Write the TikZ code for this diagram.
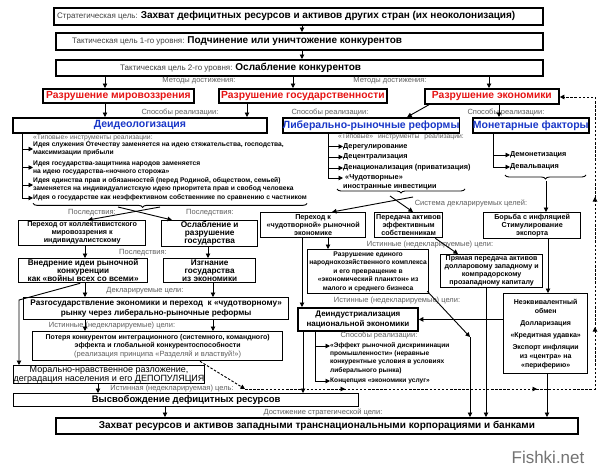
\documentclass[tikz,border=0pt]{standalone}
\usepackage{fontspec}
\setmainfont{Liberation Sans}
\usetikzlibrary{arrows.meta,decorations.pathreplacing,decorations.markings}
\definecolor{rd}{RGB}{230,20,20}
\definecolor{bl}{RGB}{25,55,200}
\definecolor{lb}{RGB}{95,95,95}
\newcommand\fs[2]{\fontsize{#1}{#2}\selectfont}
\newcommand\bxn[6]{\node[#6, anchor=north west, minimum width={#4-#2}, minimum height={#5-#3}] (#1) at (#2,#3)}
\tikzset{
 bx/.style={draw, line width=1.3pt, inner sep=0pt, align=center, font=\bfseries\fs{7.2}{8.2}},
 bxt/.style={bx, line width=1.8pt},
 lbl/.style={text=lb, inner sep=0pt, font=\fs{7.5}{8}},
 arr/.style={-{Triangle[length=4.5pt,width=4.5pt]}, line width=0.9pt},
 ln/.style={line width=0.9pt},
 itm/.style={anchor=west, align=left, inner sep=0pt, font=\bfseries\fs{6.7}{8}},
 dsh/.style={dash pattern=on 2.5pt off 1.6pt, line width=0.9pt},
 brc/.style={ln, decorate, decoration={brace, mirror, amplitude=4pt}},
}
\begin{document}
\begin{tikzpicture}[x=1pt,y=-1pt]
\useasboundingbox (0,0) rectangle (600,471);
\fill[white] (0,0) rectangle (600,471);
% x helper coordinates
\foreach \n/\v in {x302/302,x105/105,x293/293,x489/489,x247/247,x499/499,x22/22,x328/328,x493/493,x88/88,x172/172,x85/85,x208/208,x213/213,x98/98,x165/165,x332/332,x413/413,x546/546,x548/548,x547/547,x486/486,x470/470,x458/458,x315/315,x303/303,x200/200,x19/19}
  {\coordinate (\n) at (\v,0);}

% top goals
\bxn{s1}{53}{7}{542}{24}{bxt}{};
\node[anchor=west, inner sep=0pt] (s1t) at ([xshift=4]s1.west) {{\fs{8}{9}\color{black!75}Стратегическая цель: }{\bfseries\fs{10}{11}Захват дефицитных ресурсов и активов других стран (их неоколонизация)}};
\bxn{s2}{55}{32}{542}{49}{bxt}{};
\node[anchor=west, inner sep=0pt] (s2t) at ([xshift=17]s2.west) {{\fs{8}{9}\color{black!75}Тактическая цель 1-го уровня: }{\bfseries\fs{10}{11}Подчинение или уничтожение конкурентов}};
\bxn{s3}{55}{59}{542}{75}{bxt}{};
\node[anchor=west, inner sep=0pt] (s3t) at ([xshift=65]s3.west) {{\fs{8}{9}\color{black!75}Тактическая цель 2-го уровня: }{\bfseries\fs{10}{11}Ослабление конкурентов}};
\draw[arr] (s1.south -| x302) -- (s2.north -| x302);
\draw[arr] (s2.south -| x302) -- (s3.north -| x302);

% methods
\node[lbl] (lm1) at (199,81) {Методы достижения:};
\node[lbl] (lm2) at (390,81) {Методы достижения:};
\bxn{m1}{42}{88}{193}{102}{bxt, text=rd, font=\bfseries\fs{10.3}{11}}{Разрушение мировоззрения};
\bxn{m2}{218}{88}{386}{102}{bxt, text=rd, font=\bfseries\fs{10.3}{11}}{Разрушение государственности};
\bxn{m3}{424}{88}{558}{103}{bxt, text=rd, font=\bfseries\fs{10.3}{11}}{Разрушение экономики};
\draw[arr] (s3.south -| x105) -- (m1.north -| x105);
\draw[arr] (s3.south -| x293) -- (m2.north -| x293);
\draw[arr] (s3.south -| x489) -- (m3.north -| x489);

% ways
\node[lbl] (lw1) at (180,112.5) {Способы реализации:};
\node[lbl] (lw2) at (330,112.5) {Способы реализации:};
\node[lbl] (lw3) at (506,112.5) {Способы реализации:};
\bxn{d1}{12}{117}{266}{132}{bxt, text=bl, font=\bfseries\fs{10.5}{11}}{Деидеологизация};
\bxn{d2}{282}{117}{456}{132}{bxt, text=bl, font=\bfseries\fs{10.5}{11}}{Либерально-рыночные реформы};
\bxn{d3}{472}{117}{587}{132}{bxt, text=bl, font=\bfseries\fs{10.5}{11}}{Монетарные факторы};
\draw[arr] (m1.south -| x105) -- (d1.north -| x105);
\draw[arr] (m2.south -| x247) -- (d1.north -| x247);
\draw[arr] ([xshift=-63]m3.south) -- ([xshift=36]d2.north);
\draw[arr] (m3.south -| x499) -- (d3.north -| x499);

% deideologization list
\node[lbl, anchor=west, font=\fs{6.8}{8}] (ld) at (33,137.5) {«Типовые» инструменты реализации:};
\node[itm] (i1) at (33,149) {Идея служения Отечеству заменяется на идею стяжательства, господства,\\максимизации прибыли};
\node[itm] (i2) at (33,167.5) {Идея государства-защитника народов заменяется\\на идею государства-«ночного сторожа»};
\node[itm] (i3) at (33,185) {Идея единства прав и обязанностей (перед Родиной, обществом, семьей)\\заменяется на индивидуалистскую идею приоритета прав и свобод человека};
\node[itm] (i4) at (33,198) {Идея о государстве как неэффективном собственнике по сравнению с частником};
\draw[ln] (d1.south -| x22) -- (i4.west -| x22);
\foreach \k in {i1,i2,i3,i4} {\draw[arr] (\k.west -| x22) -- (\k.west);}
\draw[brc, decoration={aspect=0.4}] ([yshift=-2]i4.south west) -- ([yshift=-2]i4.south east);
\coordinate (bxl) at (118,207);
\coordinate (bxr) at (160,207);

% consequences
\node[lbl] (lc1) at (92,212.5) {Последствия:};
\node[lbl] (lc2) at (210,212.5) {Последствия:};
\bxn{L1}{18}{220}{145}{245}{bx, font=\bfseries\fs{7.2}{8}}{Переход от коллективистского\\мировоззрения к\\индивидуалистскому};
\bxn{L2}{161}{220}{257}{246}{bx, font=\bfseries\fs{8.3}{8}}{Ослабление и\\разрушение\\государства};
\draw[arr] (bxr) -- (L1.north -| x88);
\draw[arr] (bxl) -- (L2.north -| x172);
\node[lbl] (lc3) at (143,253) {Последствия:};
\bxn{L3}{18}{258}{147}{282}{bx, font=\bfseries\fs{8.2}{7.6}}{Внедрение идеи рыночной\\конкуренции\\как «войны всех со всеми»};
\bxn{L4}{163}{258}{255}{282}{bx, font=\bfseries\fs{8.2}{7.6}}{Изгнание\\государства\\из экономики};
\draw[arr] (L1.south -| x85) -- (L3.north -| x85);
\draw[arr] (L2.south -| x208) -- (L4.north -| x208);
\node[lbl] (lc4) at (145,291) {Декларируемые цели:};
\bxn{R}{23}{297}{288}{319}{bx, font=\bfseries\fs{8.2}{10}}{Разгосударствление экономики и переход \ к «чудотворному»\\рынку через либерально-рыночные реформы};
\draw[arr] (L3.south -| x85) -- (R.north -| x85);
\draw[arr] (L4.south -| x213) -- (R.north -| x213);
\node[lbl] (lc5) at (112,326) {Истинные (недекларируемые) цели:};
\bxn{P}{32}{331}{282}{360}{bx, font=\bfseries\fs{7}{8.5}}{Потеря конкурентом интеграционного (системного, командного)\\эффекта и глобальной конкурентоспособности\\{\mdseries\fs{7.5}{8.5}\color{lb}(реализация принципа «Разделяй и властвуй!»)}};
\draw[arr] (R.south -| x85) -- (P.north -| x85);
\draw[arr] (R.south -| x213) -- (P.north -| x213);
\bxn{M}{13}{365}{203}{383}{bx, font=\fs{9}{9.5}}{Морально-нравственное разложение,\\деградация населения и его ДЕПОПУЛЯЦИЯ};
\coordinate (lbend) at (19,300);
\draw[arr] ([xshift=-3]L3.south) -- (lbend) -- (M.north -| x19);
\node[lbl] (lc6) at (172,389) {Истинная (недекларируемая) цель:};
\bxn{V}{13}{393}{358}{406}{bx, font=\bfseries\fs{9.5}{10}}{Высвобождение дефицитных ресурсов};
\draw[arr] (M.south -| x98) -- (V.north -| x98);
\node[lbl] (lc7) at (323,412) {Достижение стратегической цели:};
\bxn{F}{55}{417}{577}{433}{bxt, font=\bfseries\fs{10}{11}}{Захват ресурсов и активов западными транснациональными корпорациями и банками};
\draw[arr] (V.south -| x165) -- (F.north -| x165);

% liberal list
\node[lbl, anchor=west, font=\fs{6.8}{8}] (ll) at (338,137) {«Типовые»\hspace{5pt}инструменты\hspace{5pt}реализации:};
\node[itm, font=\bfseries\fs{7.3}{9}] (k1) at (343,146.5) {Дерегулирование};
\node[itm, font=\bfseries\fs{7.3}{9}] (k2) at (343,157) {Децентрализация};
\node[itm, font=\bfseries\fs{7.3}{9}] (k3) at (343,168) {Денационализация (приватизация)};
\node[itm, font=\bfseries\fs{7.3}{9}] (k4) at (343,182.5) {\hspace{2pt}«Чудотворные»\\иностранные инвестиции};
\coordinate (k4a) at (343,178);
\draw[ln] (d2.south -| x328) -- (k4a -| x328);
\foreach \k in {k1,k2,k3} {\draw[arr] (\k.west -| x328) -- (\k.west);}
\draw[arr] (k4a -| x328) -- (k4a);
\coordinate (lbA) at (337,189);
\coordinate (lbB) at (465,189);
\draw[brc] (lbA) -- (lbB);
\coordinate (byl) at (390,196);
\coordinate (byr) at (413,197);
\node[lbl] (ls) at (471,203) {Система декларируемых целей:};

% monetary list
\node[itm, font=\bfseries\fs{7.3}{9}] (n1) at (510,155) {Демонетизация};
\node[itm, font=\bfseries\fs{7.3}{9}] (n2) at (510,167) {Девальвация};
\draw[ln] (d3.south -| x493) -- (n2.west -| x493);
\foreach \k in {n1,n2} {\draw[arr] (\k.west -| x493) -- (\k.west);}
\coordinate (mbA) at (505,175);
\coordinate (mbB) at (586,175);
\draw[brc] (mbA) -- (mbB);
\coordinate (mbt) at (546,181);

% declared goals (right)
\bxn{T1}{260}{212}{365}{237}{bx}{Переход к\\«чудотворной» рыночной\\экономике};
\bxn{T2}{374}{212}{442}{237}{bx}{Передача активов\\эффективным\\собственникам};
\bxn{T3}{483}{212}{580}{238}{bx}{Борьба с инфляцией\\Стимулирование\\экспорта};
\draw[arr] (byr) -- (T1.north -| x332);
\draw[arr] (byl) -- (T2.north -| x413);
\draw[arr] (mbt) -- (T3.north -| x546);
\node[lbl] (lt) at (430,245) {Истинные (недекларируемые) цели:};
\bxn{U1}{307}{249}{428}{293}{bx, font=\bfseries\fs{6.7}{8.4}}{Разрушение единого\\народнохозяйственного комплекса\\и его превращение в\\«экономический планктон» из\\малого и среднего бизнеса};
\bxn{U2}{440}{254}{542}{287}{bx, font=\bfseries\fs{7.1}{8}}{Прямая передача активов\\долларовому западному и\\компрадорскому\\прозападному капиталу};
\draw[arr] (T1.south -| x328) -- (U1.north -| x328);
\draw[arr] ([xshift=-8]T2.south east) -- (U2.north -| x458);
\bxn{W}{503}{293}{587}{373}{bx, font=\bfseries\fs{7}{9}}{Неэквивалентный\\обмен\\[3pt]Долларизация\\[3pt]«Кредитная удавка»\\[3pt]Экспорт инфляции\\из «центра» на\\«периферию»};
\draw[arr] (T3.south -| x548) -- (W.north -| x548);
\node[lbl] (lt2) at (397,300.5) {Истинные (недекларируемые) цели:};
\bxn{D}{297}{307}{417}{330}{bxt, font=\bfseries\fs{8}{10}}{Деиндустриализация\\национальной экономики};
\draw[arr] (T1.south -| x302) -- (D.north -| x302);
\draw[arr] (W.west |- D.east) -- (D.east);
\node[lbl] (lw4) at (379,336) {Способы реализации:};
\node[itm, anchor=north west, font=\bfseries\fs{6.6}{8.3}] (j1) at (330,342) {«Эффект рыночной дискриминации\\промышленности» (неравные\\конкурентные условия в условиях\\либерального рынка)};
\node[itm, font=\bfseries\fs{6.6}{8.3}] (j2) at (330,381) {Концепция «экономики услуг»};
\draw[ln] (D.south -| x315) -- (j2.west -| x315);
\draw[arr] ([yshift=-4]j1.north west -| x315) -- ([yshift=-4]j1.north west);
\draw[arr] (j2.west -| x315) -- (j2.west);
\draw[arr] (D.south -| x303) -- (V.north -| x303);
\coordinate (ubend) at (470,337);
\draw[arr] ([xshift=-2,yshift=3]U1.south east) -- (ubend);
\draw[arr] (ubend) -- (F.north -| x470);
\draw[arr] (U2.south -| x486) -- (F.north -| x486);
\draw[arr] (W.south -| x547) -- (F.north -| x547);

% dashed feedback loop
\coordinate (dl0) at (245,389);
\coordinate (dl1) at (595,389);
\coordinate (dl2) at (595,97);
\draw[dsh, -{Triangle[length=4.5pt,width=4.5pt]}] (P.south -| x200) -- (dl0);
\draw[dsh, -{Triangle[length=4.5pt,width=4.5pt]},
  postaction={decorate, decoration={markings,
    mark=at position 100pt with {\arrow{Triangle[length=4.5pt,width=4.5pt]}},
    mark=at position 292pt with {\arrow{Triangle[length=4.5pt,width=4.5pt]}},
    mark=at position 412pt with {\arrow{Triangle[length=4.5pt,width=4.5pt]}},
    mark=at position 542pt with {\arrow{Triangle[length=4.5pt,width=4.5pt]}}}}]
  (dl0) -- (dl1) -- (dl2) -- (m3.east |- dl2);

% watermark
\node[text=black!55, font=\fs{17}{18}, inner sep=0pt] (wm) at (548,457) {Fishki.net};
\end{tikzpicture}
\end{document}
